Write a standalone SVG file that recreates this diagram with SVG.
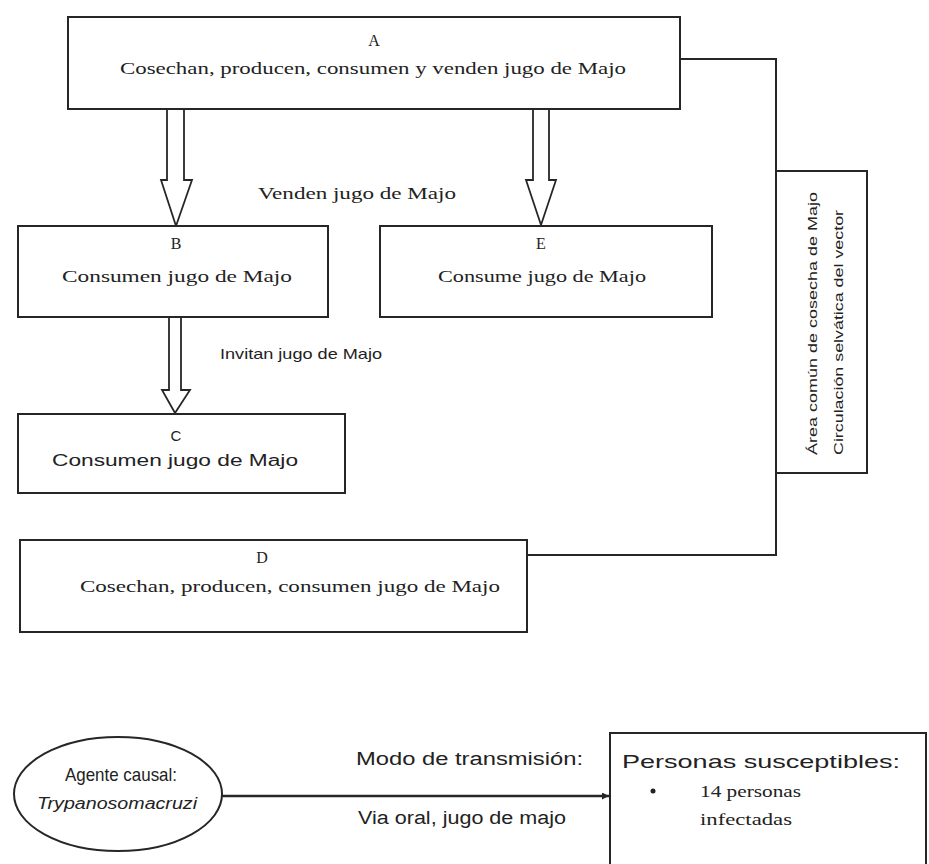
<svg xmlns="http://www.w3.org/2000/svg" width="929" height="864" viewBox="0 0 929 864">
<style>
.box{fill:#fff;stroke:#262626;stroke-width:2}
.conn{fill:none;stroke:#262626;stroke-width:2}
.harrow{fill:#fff;stroke:#262626;stroke-width:1.8;stroke-linejoin:miter}
.serif{font-family:"Liberation Serif","Times New Roman",serif;font-size:16px;fill:#222}
.sans{font-family:"Liberation Sans",Arial,sans-serif;fill:#222}
.mid{text-anchor:middle}
</style>
<defs>
<marker id="arr" viewBox="0 0 10 10" refX="10" refY="5" markerWidth="7" markerHeight="7" orient="auto" markerUnits="userSpaceOnUse">
<path d="M0,0 L10,5 L0,10 z" fill="#262626"/>
</marker>
</defs>
<rect width="929" height="864" fill="#fff"/>

<g id="connectors">
<polyline class="conn" points="680,59 776,59 776,171"/>
<polyline class="conn" points="776,473 776,555 527,555"/>
<path class="harrow" d="M167,109 L184,109 L184,180 L192,180 L176,226 L161,180 L167,180 Z"/>
<path class="harrow" d="M533,109 L549,109 L549,180 L556,180 L541,225 L526,180 L533,180 Z"/>
<path class="harrow" d="M169,317 L181,317 L181,390 L190,390 L175,413 L162,390 L169,390 Z"/>
<line x1="222" y1="796" x2="609" y2="796" stroke="#262626" stroke-width="2.5" marker-end="url(#arr)"/>
<text class="serif" x="258" y="199" textLength="198" lengthAdjust="spacingAndGlyphs">Venden jugo de Majo</text>
<text class="sans" x="220" y="359" style="font-size:15px" textLength="162" lengthAdjust="spacingAndGlyphs">Invitan jugo de Majo</text>
<text class="sans" x="356" y="765" style="font-size:18px" textLength="227" lengthAdjust="spacingAndGlyphs">Modo de transmisión:</text>
<text class="sans" x="358" y="824" style="font-size:18px" textLength="208" lengthAdjust="spacingAndGlyphs">Via oral, jugo de majo</text>
</g>

<g id="nodeA">
<rect class="box" x="68" y="17" width="612" height="92"/>
<text class="serif mid" x="374" y="46">A</text>
<text class="serif" x="120" y="74" textLength="506" lengthAdjust="spacingAndGlyphs">Cosechan, producen, consumen y venden jugo de Majo</text>
</g>

<g id="nodeB">
<rect class="box" x="18" y="226" width="310" height="91"/>
<text class="serif mid" x="176" y="249">B</text>
<text class="serif" x="62" y="282" textLength="230" lengthAdjust="spacingAndGlyphs">Consumen jugo de Majo</text>
</g>

<g id="nodeE">
<rect class="box" x="380" y="226" width="332" height="91"/>
<text class="serif mid" x="541" y="249">E</text>
<text class="serif" x="438" y="282" textLength="208" lengthAdjust="spacingAndGlyphs">Consume jugo de Majo</text>
</g>

<g id="nodeC">
<rect class="box" x="18" y="414" width="327" height="79"/>
<text class="sans mid" x="176" y="441" style="font-size:15px">C</text>
<text class="sans" x="52" y="466" style="font-size:16px" textLength="246" lengthAdjust="spacingAndGlyphs">Consumen jugo de Majo</text>
</g>

<g id="nodeD">
<rect class="box" x="20" y="540" width="507" height="92"/>
<text class="serif mid" x="262" y="563">D</text>
<text class="serif" x="80" y="592" textLength="420" lengthAdjust="spacingAndGlyphs">Cosechan, producen, consumen jugo de Majo</text>
</g>

<g id="nodeArea">
<rect class="box" x="776" y="171" width="91" height="302"/>
<text class="sans" style="font-size:13px" transform="translate(817,455) rotate(-90)" x="0" y="0" textLength="263" lengthAdjust="spacingAndGlyphs">Área común de cosecha de Majo</text>
<text class="sans" style="font-size:13px" transform="translate(843,455) rotate(-90)" x="0" y="0" textLength="245" lengthAdjust="spacingAndGlyphs">Circulación selvática del vector</text>
</g>

<g id="nodeAgente">
<ellipse class="box" cx="118" cy="794" rx="104" ry="57"/>
<text class="sans" x="65" y="781" style="font-size:19px" textLength="112" lengthAdjust="spacingAndGlyphs">Agente causal:</text>
<text class="sans" x="37" y="809" style="font-size:16px;font-style:italic" textLength="160" lengthAdjust="spacingAndGlyphs">Trypanosomacruzi</text>
</g>

<g id="nodePersonas">
<rect class="box" x="610" y="733" width="316" height="140"/>
<text class="sans" x="622" y="768" style="font-size:19px" textLength="278" lengthAdjust="spacingAndGlyphs">Personas susceptibles:</text>
<circle cx="653" cy="791" r="2.5" fill="#222"/>
<text class="serif" x="700" y="797" style="font-size:17px" textLength="101" lengthAdjust="spacingAndGlyphs">14 personas</text>
<text class="serif" x="700" y="825" style="font-size:17px" textLength="92" lengthAdjust="spacingAndGlyphs">infectadas</text>
</g>
</svg>
